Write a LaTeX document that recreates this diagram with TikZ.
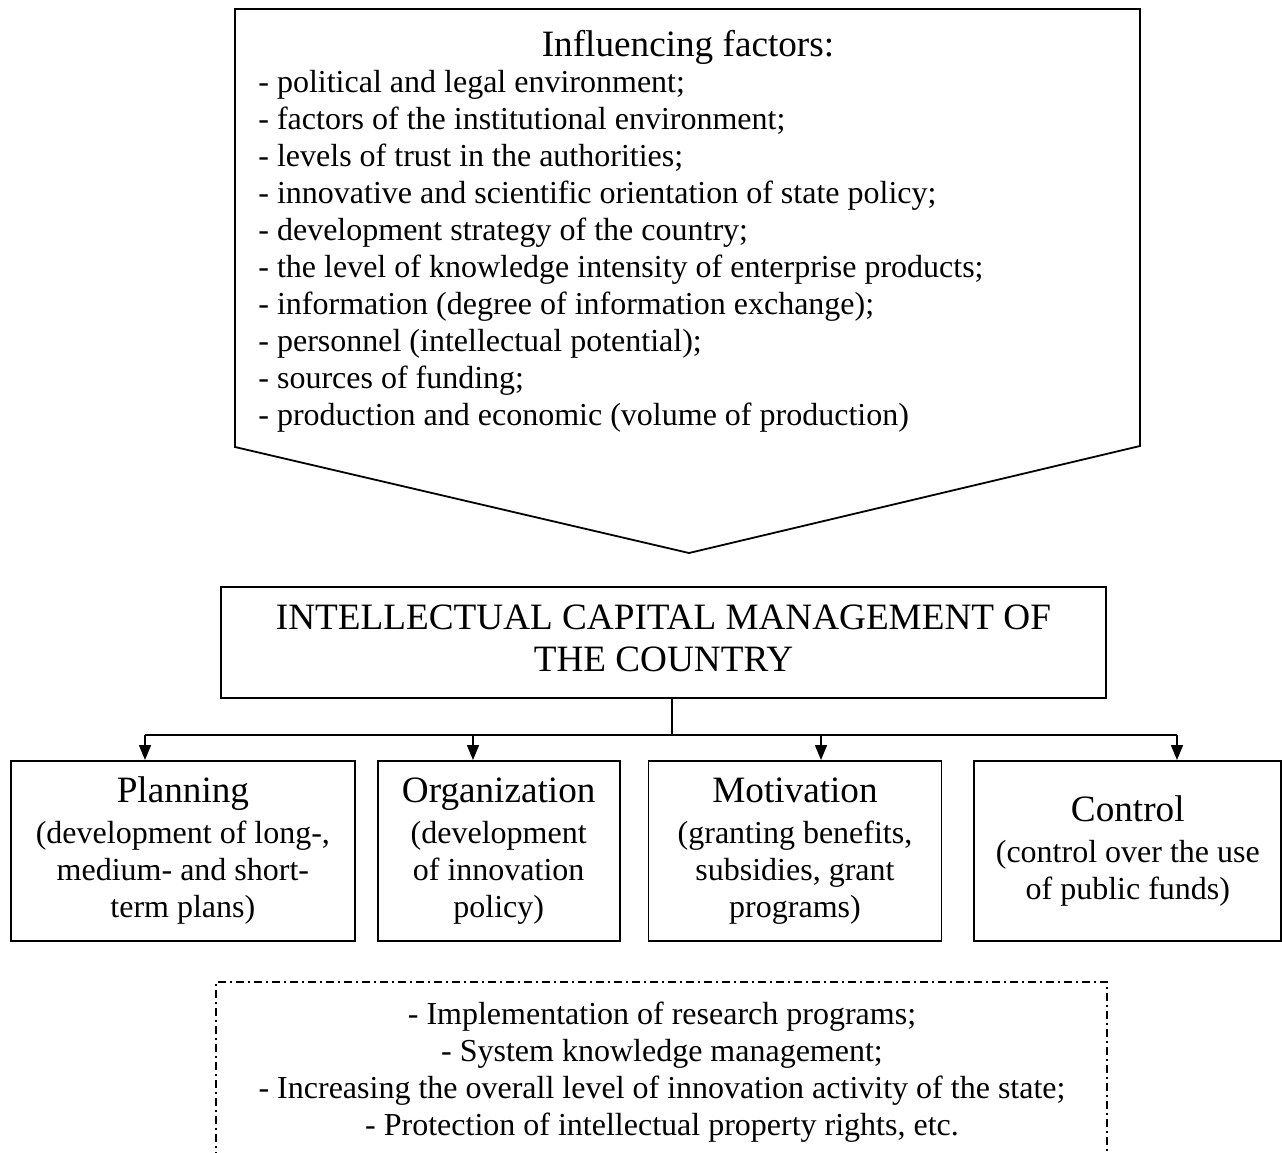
\documentclass[tikz,border=0pt]{standalone}
\usepackage{fontspec}
\setmainfont{Liberation Serif}
\usetikzlibrary{arrows.meta,positioning}
\newcommand{\listfont}{\fontsize{16}{18.5}\selectfont}
\newcommand{\headfont}{\fontsize{18.6}{21}\selectfont}
\tikzset{
  func/.style={draw, line width=0.9pt, minimum height=90pt, inner sep=2pt,
               align=center, font=\listfont},
  flow/.style={-{Triangle[length=7.5pt, width=6pt]}, line width=0.75pt},
  frame/.style={line width=0.9pt},
  tasks/.style={line width=0.6pt, dash pattern=on 4pt off 2pt on 1pt off 2pt}
}

\begin{document}
\begin{tikzpicture}[x=0.5pt, y=-0.5pt]
  \useasboundingbox (0,0) rectangle (1282,1153);
  % influencing factors: pentagon pointing down
  \draw[frame] (235,9) -- (1140,9) -- (1140,446) -- (689,553) -- (235,447) -- cycle;
  \node[font=\headfont] (ftitle) at (688,47) {Influencing factors:};
  \node[anchor=north west, align=left, inner sep=0pt, font=\listfont] (flist) at (258,70)
    {- political and legal environment;\\
     - factors of the institutional environment;\\
     - levels of trust in the authorities;\\
     - innovative and scientific orientation of state policy;\\
     - development strategy of the country;\\
     - the level of knowledge intensity of enterprise products;\\
     - information (degree of information exchange);\\
     - personnel (intellectual potential);\\
     - sources of funding;\\
     - production and economic (volume of production)};
  % management box
  \node[draw, line width=0.9pt, minimum width=442.5pt, minimum height=55.5pt,
        text depth=4pt, align=center, font=\headfont] (icm) at (663.5,642.5)
    {INTELLECTUAL CAPITAL MANAGEMENT OF\\THE COUNTRY};
  % functions
  \node[func, minimum width=172pt, anchor=north west] (plan) at (10,760)
    {{\headfont Planning}\\[2pt](development of long-,\\medium- and short-\\term plans)};
  \node[func, minimum width=121pt, right=10.5pt of plan] (org)
    {{\headfont Organization}\\[2pt](development\\of innovation\\policy)};
  \node[func, minimum width=146.5pt, right=13.5pt of org] (motiv)
    {{\headfont Motivation}\\[2pt](granting benefits,\\subsidies, grant\\programs)};
  \node[func, minimum width=153.5pt, right=15.5pt of motiv] (ctrl)
    {{\headfont Control}\\[2pt](control over the use\\of public funds)};
  % bus with arrows
  \coordinate (hub) at (672,735);
  \coordinate (a1) at (145,735);
  \coordinate (a2) at (473,735);
  \coordinate (a3) at (821,735);
  \coordinate (a4) at (1177,735);
  \draw[line width=0.75pt] (icm.south -| hub) -- (hub);
  \draw[line width=0.75pt] (a1) -- (a4);
  \draw[flow] (a1) -- (a1 |- plan.north);
  \draw[flow] (a2) -- (a2 |- org.north);
  \draw[flow] (a3) -- (a3 |- motiv.north);
  \draw[flow] (a4) -- (a4 |- ctrl.north);
  % tasks, open at the bottom
  \draw[tasks] (216,1160) -- (216,982) -- (1107,982) -- (1107,1160);
  \node[align=center, font=\listfont] (tasklist) at (662,1072)
    {- Implementation of research programs;\\
     - System knowledge management;\\
     - Increasing the overall level of innovation activity of the state;\\
     - Protection of intellectual property rights, etc.};
\end{tikzpicture}
\end{document}
